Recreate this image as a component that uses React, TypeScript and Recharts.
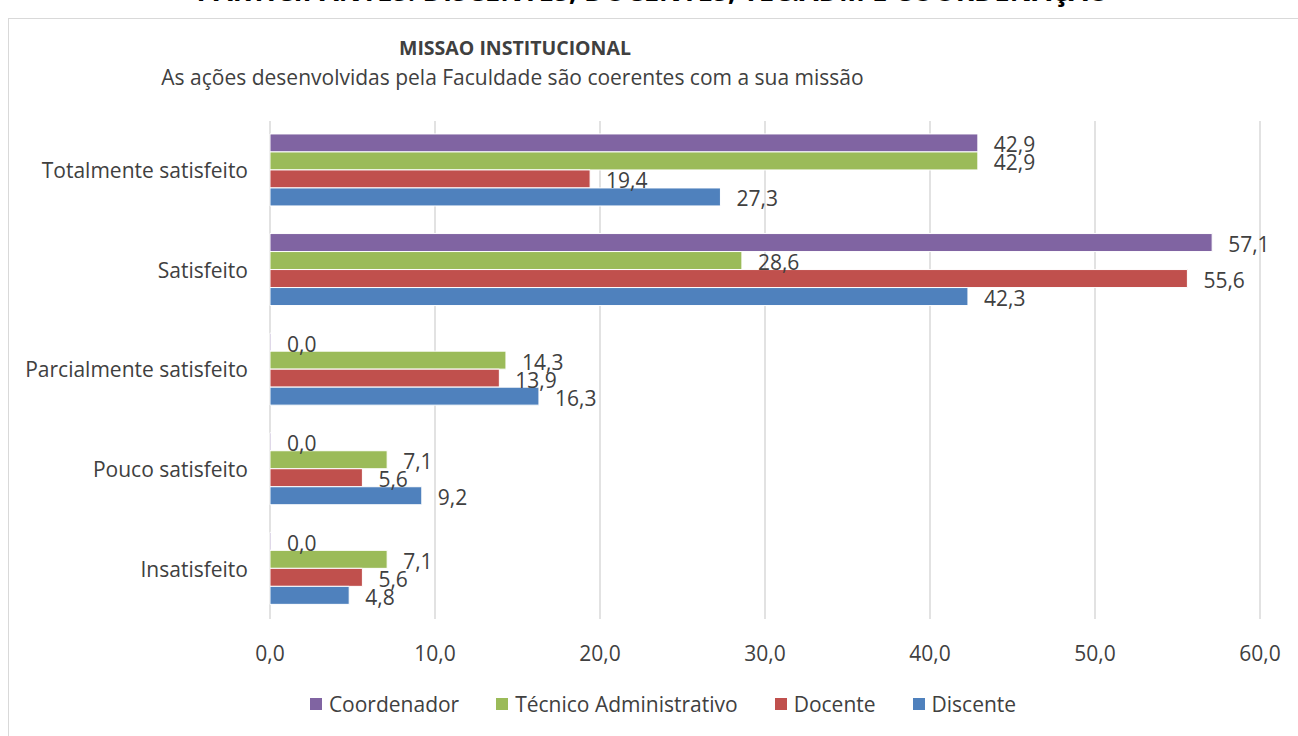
import { BarChart, Bar, XAxis, YAxis, CartesianGrid, Legend, LabelList } from "recharts";

const FONT = "'Open Sans', 'Noto Sans', sans-serif";

const categories = [
  "Totalmente satisfeito",
  "Satisfeito",
  "Parcialmente satisfeito",
  "Pouco satisfeito",
  "Insatisfeito",
];

const coordenador = [42.9, 57.1, 0.0, 0.0, 0.0];
const tecnico = [42.9, 28.6, 14.3, 7.1, 7.1];
const docente = [19.4, 55.6, 13.9, 5.6, 5.6];
const discente = [27.3, 42.3, 16.3, 9.2, 4.8];

const xTicks = [0, 10, 20, 30, 40, 50, 60];

const series = [
  { key: "coordenador", name: "Coordenador", color: "#8064A2" },
  { key: "tecnico", name: "Técnico Administrativo", color: "#9BBB59" },
  { key: "docente", name: "Docente", color: "#C0504D" },
  { key: "discente", name: "Discente", color: "#4F81BD" },
];

const fmt = (v: number) => Number(v).toFixed(1).replace(".", ",");

function LegendRow() {
  return (
    <div style={{ display: "flex", justifyContent: "center", gap: 37, fontFamily: FONT, fontSize: 21, color: "#404040" }}>
      {series.map((s) => (
        <div key={s.key} style={{ display: "flex", alignItems: "center" }}>
          <span style={{ width: 12, height: 12, background: s.color, marginRight: 7, display: "inline-block" }} />
          <span>{s.name}</span>
        </div>
      ))}
    </div>
  );
}

export default function App() {
  const data = categories.map((c, i) => ({
    category: c,
    coordenador: coordenador[i],
    tecnico: tecnico[i],
    docente: docente[i],
    discente: discente[i],
  }));

  return (
    <div style={{ position: "absolute", left: 0, top: 0, width: 1298, height: 736, overflow: "hidden", background: "#fff", fontFamily: FONT }}>
      <div style={{ position: "absolute", left: 0, width: 1298, top: -28, textAlign: "center", paddingLeft: 4, fontWeight: 700, fontSize: 27.5, color: "#000", whiteSpace: "nowrap" }}>
        PARTICIPANTES: DISCENTES, DOCENTES, TEC.ADM E COORDENAÇÃO
      </div>
      <div style={{ position: "absolute", left: 8, top: 18, width: 1320, height: 740, border: "1px solid #d9d9d9" }} />
      <div style={{ position: "absolute", left: 0, width: 1030, top: 34, textAlign: "center", fontWeight: 700, fontSize: 19.5, color: "#404040" }}>
        MISSAO INSTITUCIONAL
      </div>
      <div style={{ position: "absolute", left: 0, width: 1025, top: 63, textAlign: "center", fontSize: 21, color: "#404040" }}>
        As ações desenvolvidas pela Faculdade são coerentes com a sua missão
      </div>
      <div style={{ position: "absolute", left: 0, top: 0 }}>
        <BarChart
          width={1298}
          height={736}
          data={data}
          layout="vertical"
          margin={{ top: 121, right: 38, bottom: 39, left: 0 }}
          barCategoryGap="13%"
          barGap={0}
        >
          <CartesianGrid horizontal={false} stroke="#d9d9d9" strokeWidth={1.5} />
          <XAxis
            type="number"
            domain={[0, 60]}
            ticks={xTicks}
            tickFormatter={fmt}
            axisLine={false}
            tickLine={false}
            tickSize={0}
            tickMargin={27}
            height={50}
            tick={{ fill: "#404040", fontSize: 21, fontFamily: FONT }}
          />
          <YAxis
            type="category"
            dataKey="category"
            width={270}
            axisLine={false}
            tickLine={false}
            tickSize={0}
            tickMargin={22}
            tick={{ fill: "#404040", fontSize: 21, fontFamily: FONT }}
          />
          <Legend
            content={() => <LegendRow />}
            wrapperStyle={{ position: "absolute", top: 690, left: 14, width: 1298 }}
          />
          {series.map((s) => (
            <Bar
              key={s.key}
              dataKey={s.key}
              name={s.name}
              fill={s.color}
              stroke="#fff"
              strokeWidth={1}
              minPointSize={1}
              isAnimationActive={false}
            >
              <LabelList
                dataKey={s.key}
                position="right"
                offset={16}
                dy={2}
                formatter={(v: number) => fmt(v)}
                fill="#404040"
                fontSize={21}
                fontFamily={FONT}
              />
            </Bar>
          ))}
        </BarChart>
      </div>
    </div>
  );
}
